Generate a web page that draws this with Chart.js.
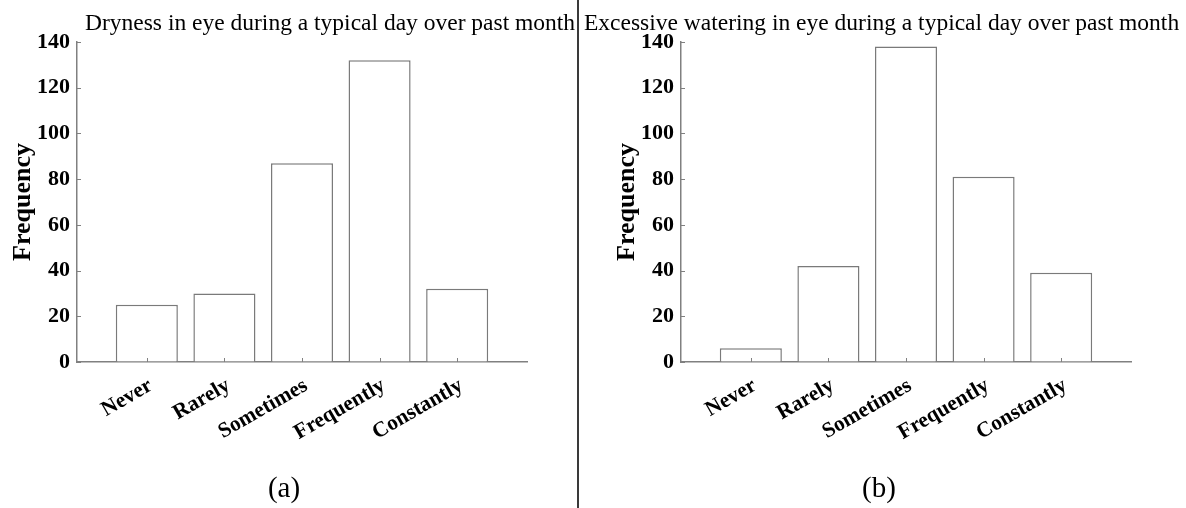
<!DOCTYPE html>
<html>
<head>
<meta charset="utf-8">
<script src="https://cdn.jsdelivr.net/npm/chart.js@4/dist/chart.umd.min.js"></script>
<style>
  html, body { margin: 0; padding: 0; background: #fff; }
  body {
    width: 1186px; height: 508px; position: relative; overflow: hidden;
    font-family: "Liberation Serif", "Times New Roman", serif; color: #000;
  }
  .panel { position: absolute; top: 0; width: 578px; height: 508px; }
  .title { position: absolute; top: 11px; font-size: 23.5px; line-height: 1; white-space: nowrap; }
  .tag { position: absolute; top: 473px; font-size: 29px; line-height: 1; transform: translateX(-50%); }
  .divider { position: absolute; left: 577px; top: 0; width: 1.5px; height: 508px; background: #3a3a3a; }
</style>
</head>
<body>
<canvas id="dryness" class="panel" width="578" height="508" style="left:0"></canvas>
<canvas id="watering" class="panel" width="578" height="508" style="left:604px"></canvas>
<div class="divider"></div>
<div class="title" style="left:85px">Dryness in eye during a typical day over past month</div>
<div class="title" style="left:584px">Excessive watering in eye during a typical day over past month</div>
<div class="tag" style="left:284px">(a)</div>
<div class="tag" style="left:879px">(b)</div>

<script>
// Response categories shared by both panels
const categories = ['Never', 'Rarely', 'Sometimes', 'Frequently', 'Constantly'];

// Counts per category
const drynessCounts = [25, 30, 87, 132, 32];
const wateringCounts = [6, 42, 138, 81, 39];

// Frequency axis ticks
const yTicks = [0, 20, 40, 60, 80, 100, 120, 140];

const FONT = '"Liberation Serif", "Times New Roman", serif';
const AXIS_GREY = '#808080';

// Short tick marks that point into the plot area
const inwardTicks = {
  id: 'inwardTicks',
  afterDraw(chart) {
    const { ctx, chartArea: a } = chart;
    const x = chart.scales.x, y = chart.scales.y;
    ctx.save();
    ctx.strokeStyle = AXIS_GREY;
    ctx.lineWidth = 1;
    x.ticks.forEach(t => {
      const px = Math.round(x.getPixelForValue(t.value)) + 0.5;
      ctx.beginPath(); ctx.moveTo(px, a.bottom); ctx.lineTo(px, a.bottom - 4); ctx.stroke();
    });
    y.ticks.forEach(t => {
      const py = Math.round(y.getPixelForValue(t.value)) + 0.5;
      ctx.beginPath(); ctx.moveTo(a.left, py); ctx.lineTo(a.left + 4, py); ctx.stroke();
    });
    ctx.restore();
  }
};

function makeChart(id, values) {
  return new Chart(document.getElementById(id), {
    type: 'bar',
    data: {
      datasets: [{
        data: values.map((v, i) => ({ x: i + 1, y: v })),
        backgroundColor: '#ffffff',
        borderColor: '#7a7a7a',
        borderWidth: 1.5,
        barPercentage: 0.8,
        categoryPercentage: 1
      }]
    },
    options: {
      responsive: false,
      animation: false,
      devicePixelRatio: 1,
      layout: { padding: { left: 0, right: 51, top: 42, bottom: 0 } },
      plugins: { legend: { display: false }, tooltip: { enabled: false } },
      scales: {
        x: {
          type: 'linear',
          min: 0.1,
          max: 5.9,
          offset: false,
          z: 1,
          afterBuildTicks: s => { s.ticks = categories.map((c, i) => ({ value: i + 1 })); },
          afterFit: s => { s.height = 146; },
          grid: { display: true, offset: false, drawOnChartArea: false, drawTicks: false },
          border: { display: true, color: AXIS_GREY, width: 1.5 },
          ticks: {
            autoSkip: false,
            minRotation: 30,
            maxRotation: 30,
            padding: 11,
            labelOffset: 4,
            color: '#000',
            font: { family: FONT, size: 21.5, weight: 'bold' },
            callback: v => categories[Math.round(v) - 1] ?? ''
          }
        },
        y: {
          min: 0,
          max: 140,
          z: 1,
          afterBuildTicks: s => { s.ticks = yTicks.map(v => ({ value: v })); },
          afterFit: s => { s.width = 77; },
          grid: { display: true, drawOnChartArea: false, drawTicks: false },
          border: { display: true, color: AXIS_GREY, width: 1.5 },
          ticks: {
            padding: 7,
            color: '#000',
            font: { family: FONT, size: 22, weight: 'bold' }
          },
          title: {
            display: true,
            text: 'Frequency',
            color: '#000',
            font: { family: FONT, size: 26, weight: 'bold', lineHeight: 1 },
            padding: { top: 10, bottom: 0 }
          }
        }
      }
    },
    plugins: [inwardTicks]
  });
}

makeChart('dryness', drynessCounts);
makeChart('watering', wateringCounts);
</script>
</body>
</html>
